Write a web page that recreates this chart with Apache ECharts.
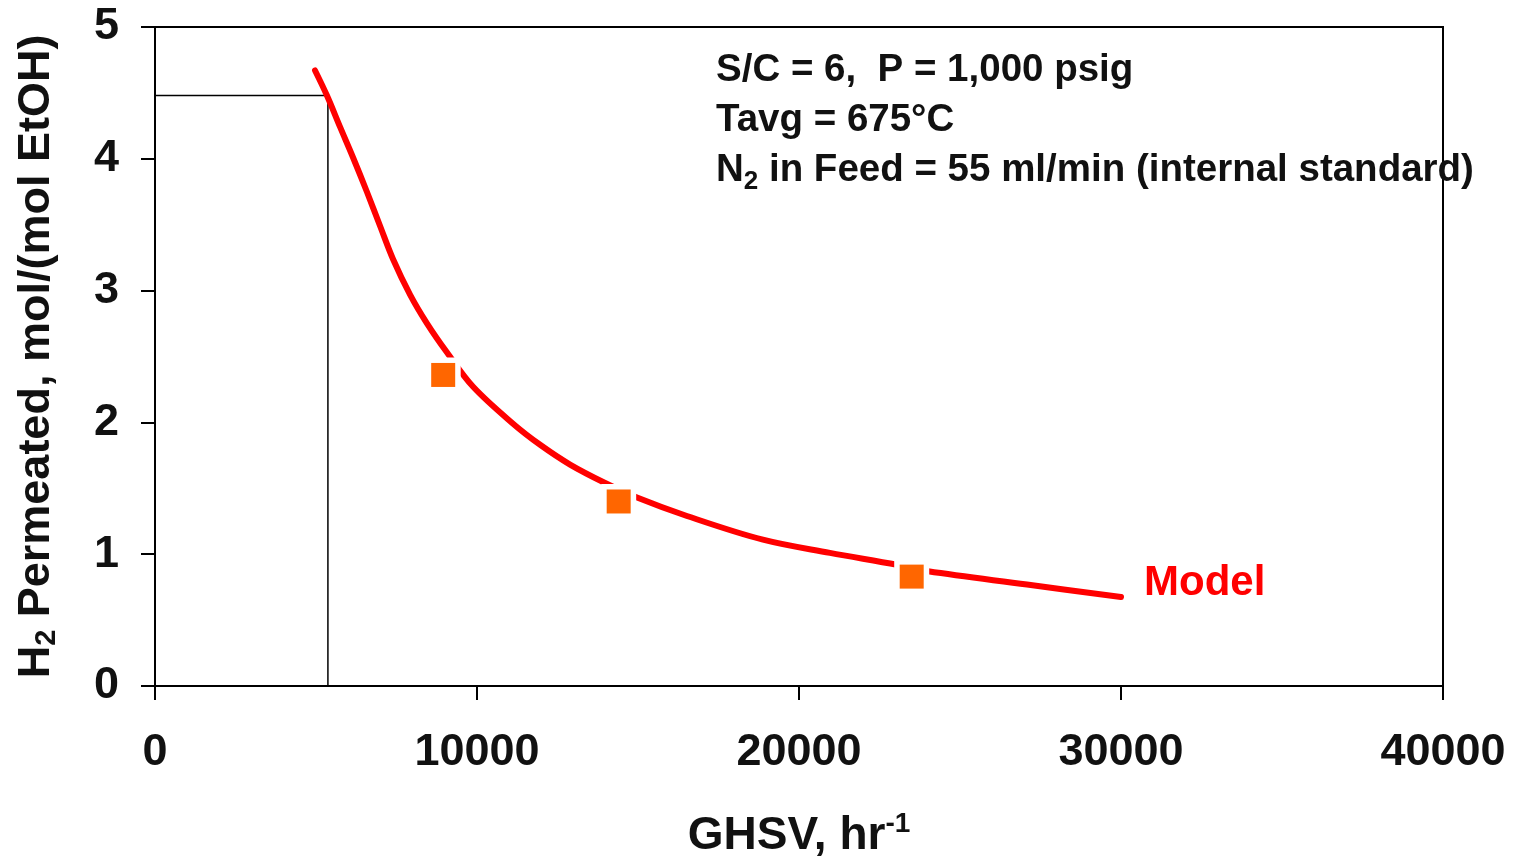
<!DOCTYPE html>
<html>
<head>
<meta charset="utf-8">
<script src="https://cdn.jsdelivr.net/npm/echarts@6/dist/echarts.min.js"></script>
<style>
  html, body { margin: 0; padding: 0; background: #fff; }
  #chart { width: 1523px; height: 860px; }
</style>
</head>
<body>
<div id="chart"></div>
<script>
// model curve (GHSV, H2 permeated)
var modelX = [4970, 5340, 5750, 6150, 6580, 6990, 7390, 7920, 8450, 9070, 9880, 11120, 11960, 12890, 13980, 14970, 16520, 18880, 20960, 23040, 24010, 27080, 30000];
var modelY = [4.67, 4.48, 4.24, 4.01, 3.75, 3.49, 3.24, 2.97, 2.75, 2.53, 2.27, 1.99, 1.83, 1.68, 1.54, 1.43, 1.29, 1.11, 1.01, 0.92, 0.87, 0.77, 0.675];
// experimental points
var expX = [8950, 14400, 23500];
var expY = [2.36, 1.40, 0.83];
// reference lines
var refX = [0, 5370, 5370];
var refY = [4.48, 4.48, 0];

var chart = echarts.init(document.getElementById('chart'));

function pairs(xs, ys) {
    var out = [];
    for (var i = 0; i < xs.length; i++) out.push([xs[i], ys[i]]);
    return out;
}

var fontFam = '"Liberation Sans", Arial, sans-serif';

var option = {
    backgroundColor: '#fff',
    animation: false,
    grid: {
        left: 155, right: 80, top: 27, bottom: 174,
        containLabel: false, outerBoundsMode: 'none',
        show: true, borderColor: '#000', borderWidth: 2, backgroundColor: 'transparent'
    },
    xAxis: {
        type: 'value', min: 0, max: 40000, interval: 10000,
        name: 'GHSV, hr{sup|-1}',
        nameLocation: 'middle', nameGap: 124,
        nameTextStyle: {
            fontFamily: fontFam, fontSize: 46, fontWeight: 'bold', color: '#111',
            rich: { sup: { fontFamily: fontFam, fontSize: 28, fontWeight: 'bold', color: '#111', verticalAlign: 'top', padding: [0, 0, 24, 0] } }
        },
        axisLine: { lineStyle: { color: '#000', width: 2 } },
        axisTick: { show: true, inside: false, length: 14, lineStyle: { color: '#000', width: 2 } },
        splitLine: { show: false },
        axisLabel: {
            fontFamily: fontFam, fontSize: 45, fontWeight: 'bold', color: '#111', margin: 44,
            formatter: function (v) { return String(v); }
        }
    },
    yAxis: {
        type: 'value', min: 0, max: 5, interval: 1,
        name: 'H{sub|2} Permeated, mol/(mol EtOH)',
        nameLocation: 'middle', nameGap: 94,
        nameTextStyle: {
            fontFamily: fontFam, fontSize: 45, fontWeight: 'bold', color: '#111',
            rich: { sub: { fontFamily: fontFam, fontSize: 29, fontWeight: 'bold', color: '#111', verticalAlign: 'bottom', padding: [20, 0, 0, 0] } }
        },
        axisLine: { lineStyle: { color: '#000', width: 2 } },
        axisTick: { show: true, inside: false, length: 14, lineStyle: { color: '#000', width: 2 } },
        splitLine: { show: false },
        axisLabel: { fontFamily: fontFam, fontSize: 45, fontWeight: 'bold', color: '#111', margin: 36 }
    },
    series: [
        {
            name: 'ref', type: 'line', data: pairs(refX, refY),
            symbol: 'none', silent: true, z: 1,
            lineStyle: { color: '#000', width: 1.5 }
        },
        {
            name: 'Model', type: 'line', data: pairs(modelX, modelY),
            symbol: 'none', smooth: 0.35, z: 2,
            lineStyle: { color: '#ff0000', width: 6, cap: 'round', join: 'round' },
            endLabel: {
                show: true, formatter: 'Model', color: '#ff0000',
                fontFamily: fontFam, fontSize: 42, fontWeight: 'bold',
                distance: 23, offset: [0, -14]
            }
        },
        {
            name: 'gap', type: 'scatter', data: pairs(expX, expY),
            symbol: 'rect', symbolSize: 35, z: 3, silent: true,
            itemStyle: { color: '#fff', opacity: 1 }
        },
        {
            name: 'Data', type: 'scatter', data: pairs(expX, expY),
            symbol: 'rect', symbolSize: 24, z: 4,
            itemStyle: { color: '#ff6600', opacity: 1 }
        }
    ],
    graphic: [
        {
            type: 'text', left: 716, top: 45, z: 10,
            style: {
                text: 'S/C = 6,  P = 1,000 psig\nTavg = 675°C\nN{sub|2} in Feed = 55 ml/min (internal standard)',
                fontFamily: fontFam, fontSize: 38.5, fontWeight: 'bold', fill: '#111', lineHeight: 50,
                rich: { sub: { fontFamily: fontFam, fontSize: 26, fontWeight: 'bold', fill: '#111', verticalAlign: 'bottom', padding: [15, 0, 0, 0] } }
            }
        }
    ]
};

chart.setOption(option);
</script>
</body>
</html>
